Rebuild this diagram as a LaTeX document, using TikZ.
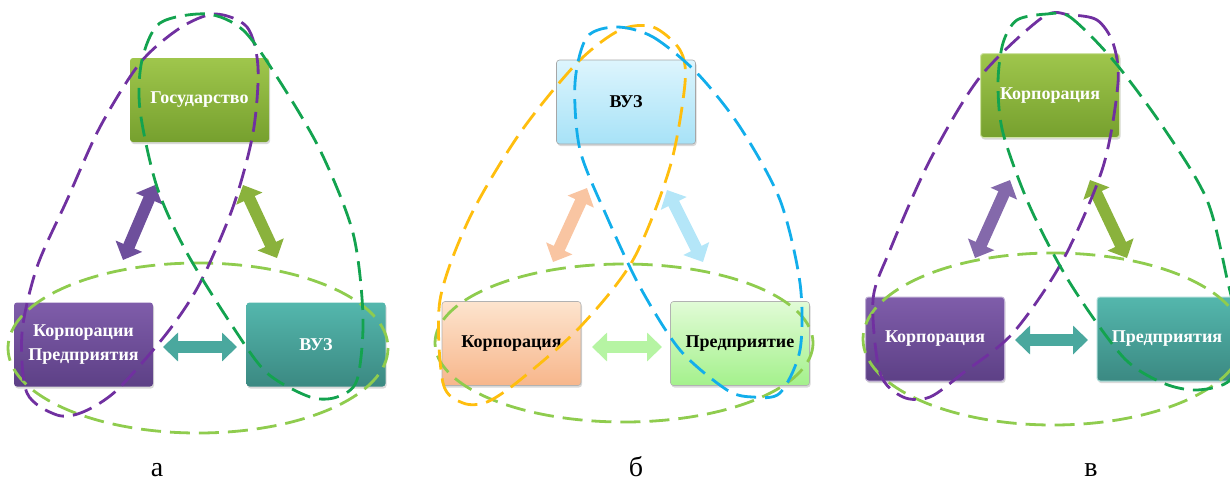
\documentclass[tikz,border=0pt]{standalone}
\usepackage{fontspec}
\setmainfont{Liberation Serif}
\usetikzlibrary{arrows.meta,shadows}

\definecolor{zelen}{HTML}{8AB23C}
\definecolor{zelenT}{HTML}{9FC64C}
\definecolor{zelenB}{HTML}{76A02E}
\definecolor{fiolT}{HTML}{7F5DAA}
\definecolor{fiolB}{HTML}{5D4086}
\definecolor{fiol}{HTML}{6E4F9C}
\definecolor{birT}{HTML}{54B7AD}
\definecolor{birB}{HTML}{3B8982}
\definecolor{bir}{HTML}{4AA89E}
\definecolor{golT}{HTML}{DDF5FD}
\definecolor{golB}{HTML}{A7E2F7}
\definecolor{persT}{HTML}{FDE4CE}
\definecolor{persB}{HTML}{F7B68B}
\definecolor{salT}{HTML}{E1FBD6}
\definecolor{salB}{HTML}{A4F18C}
\definecolor{lpurple}{HTML}{7030A0}
\definecolor{dgreen}{HTML}{13A34F}
\definecolor{lgreen}{HTML}{8FCC4E}
\definecolor{lorange}{HTML}{FFBE0E}
\definecolor{lblue}{HTML}{12AEEB}

\tikzset{
  blok/.style={rounded corners=3pt,minimum width=139pt,minimum height=84pt,
    align=center,font=\bfseries\fontsize{18}{24}\selectfont,
    drop shadow={opacity=0.3,shadow xshift=1pt,shadow yshift=-2pt}},
  strelka/.style={line width=12pt,
    {Triangle[width=28pt,length=15pt]}-{Triangle[width=28pt,length=15pt]}},
  petlya/.style={line width=2.8pt,dash pattern=on 20pt off 9pt},
}

\begin{document}
\begin{tikzpicture}[line cap=butt,line join=round,x=1pt,y=-1pt]
  \useasboundingbox (0,0) rectangle (1230,483);
  \clip (0,0) rectangle (1230,483);

  % а
  \node[blok,top color=zelenT,bottom color=zelenB,text=white] (gosA) at (199.5,100) {Государство};
  \node[blok,top color=fiolT,bottom color=fiolB,text=white] (korpA) at (83.5,344.5) {Корпорации\\Предприятия};
  \node[blok,top color=birT,bottom color=birB,text=white] (vuzA) at (316,344.5) {ВУЗ};
  \coordinate (a1) at (155,185); \coordinate (a2) at (123,260);
  \coordinate (a3) at (243,185); \coordinate (a4) at (277,258);
  \coordinate (a5) at (163,347); \coordinate (a6) at (237,347);
  \draw[strelka,fiol] (a1) -- (a2);
  \draw[strelka,zelen] (a3) -- (a4);
  \draw[strelka,bir] (a5) -- (a6);
  \draw[petlya,lgreen] (198,348) ellipse [x radius=190,y radius=85];
  \draw[petlya,lpurple] plot[smooth cycle] coordinates {(215,14) (247,27) (258,67) (253,133) (233,207) (200,283) (167,333) (117,390) (83,412) (57,415) (27,393) (22,333) (37,267) (67,200) (100,127) (140,63) (180,28)};
  \draw[petlya,dgreen] plot[smooth cycle] coordinates {(207,14) (243,30) (277,77) (320,150) (353,233) (363,317) (357,380) (337,397) (310,397) (267,373) (233,327) (187,253) (157,187) (140,110) (142,60) (160,23)};

  % б
  \node[blok,top color=golT,bottom color=golB,draw=black!35,line width=0.6pt] (vuzB) at (626,102) {ВУЗ};
  \node[blok,top color=persT,bottom color=persB,draw=black!30,line width=0.6pt] (korpB) at (511.5,343.5) {Корпорация};
  \node[blok,top color=salT,bottom color=salB,draw=black!30,line width=0.6pt] (predB) at (740,343.5) {Предприятие};
  \coordinate (b1) at (587,188); \coordinate (b2) at (553,262);
  \coordinate (b3) at (667,190); \coordinate (b4) at (703,262);
  \coordinate (b5) at (592,347); \coordinate (b6) at (662,347);
  \draw[strelka,persB!80!white] (b1) -- (b2);
  \draw[strelka,golB!85!white] (b3) -- (b4);
  \draw[strelka,salB!80!white] (b5) -- (b6);
  \draw[petlya,lgreen] (624,343) ellipse [x radius=189,y radius=79];
  \draw[petlya,lorange] plot[smooth cycle] coordinates {(653,27) (680,50) (685,83) (670,167) (633,260) (580,327) (520,380) (487,402) (463,403) (443,383) (440,300) (470,217) (520,133) (577,63) (620,30)};
  \draw[petlya,lblue] plot[smooth cycle] coordinates {(617,27) (653,37) (697,73) (740,127) (780,200) (800,283) (800,350) (780,393) (753,397) (727,390) (680,350) (640,287) (607,217) (580,150) (575,83) (587,37)};

  % в
  \node[blok,top color=zelenT,bottom color=zelenB,draw=zelenT!50!white,line width=1pt,text=white] (korpC) at (1050,95.5) {Корпорация};
  \node[blok,top color=fiolT,bottom color=fiolB,draw=fiolT!50!white,line width=1pt,text=white] (korpC2) at (935,339) {Корпорация};
  \node[blok,top color=birT,bottom color=birB,draw=birT!50!white,line width=1pt,minimum width=140pt,text=white] (predC) at (1167,339) {Предприятия};
  \coordinate (c1) at (1010,180); \coordinate (c2) at (975,258);
  \coordinate (c3) at (1090,180); \coordinate (c4) at (1127,258);
  \coordinate (c5) at (1015,340); \coordinate (c6) at (1088,340);
  \draw[strelka,fiol!85!white] (c1) -- (c2);
  \draw[strelka,zelen] (c3) -- (c4);
  \draw[strelka,bir] (c5) -- (c6);
  \draw[petlya,lgreen] (1053,339) ellipse [x radius=190,y radius=86];
  \draw[petlya,lpurple] plot[smooth cycle] coordinates {(1070,15) (1097,20) (1113,43) (1118,83) (1103,167) (1063,260) (1013,333) (963,373) (930,397) (903,397) (880,373) (873,300) (890,250) (930,160) (980,77) (1043,17)};
  \draw[petlya,dgreen] plot[smooth cycle] coordinates {(1047,14) (1070,17) (1113,60) (1163,127) (1207,200) (1228,283) (1240,340) (1230,380) (1197,390) (1163,383) (1123,357) (1070,283) (1030,207) (1003,133) (998,83) (1003,43) (1017,20)};

  \foreach \x/\t/\n in {157/а/la,636/б/lb,1091/в/lc}
    \node[anchor=base,font=\fontsize{28}{28}\selectfont] (\n) at (\x,476) {\t};
\end{tikzpicture}
\end{document}
